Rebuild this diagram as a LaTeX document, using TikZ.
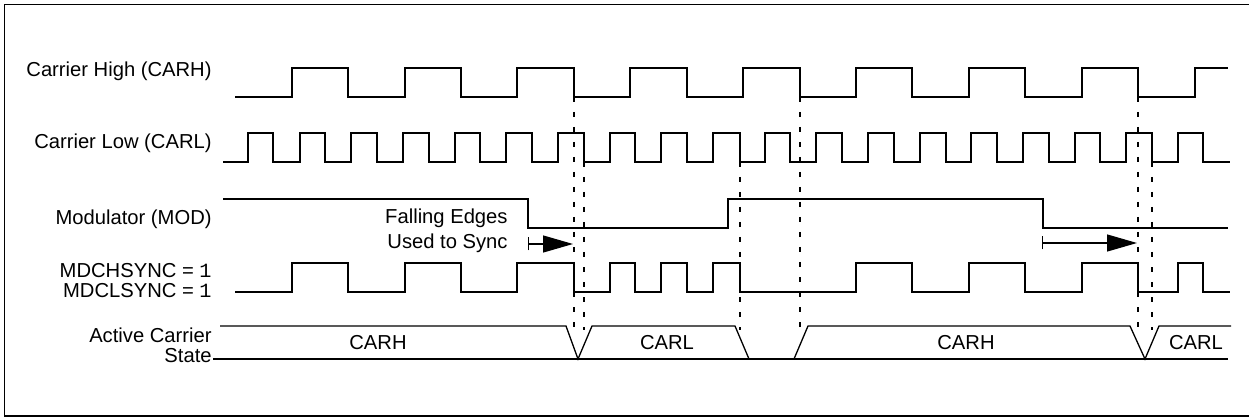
\documentclass[tikz,border=0pt]{standalone}
\usepackage{fontspec}
\setmainfont{Liberation Sans}
\setmonofont{Liberation Mono}
\usepackage{tikz}
\usetikzlibrary{arrows.meta}

\begin{document}
\begin{tikzpicture}[
    x=0.5pt, y=-0.5pt,
    every node/.style={font=\fontsize{10.1pt}{12pt}\selectfont, inner sep=0pt},
    sig/.style={line width=0.65pt, line join=miter},
    syncline/.style={line width=0.7pt, dash pattern=on 2.5pt off 5pt},
    lbl/.style={anchor=base east},
    syncarrow/.style={sig, {Bar[width=6.5pt]}-{Triangle[length=15pt,width=8.5pt]}}
]

\useasboundingbox (0,0) rectangle (1249,417);

% Frame
\draw[line width=0.9pt] (1249,4.5) -- (4.5,4.5) -- (4.5,416) -- (1249,416);

% Signal names
\node[lbl] (carhlbl) at (212,77) {Carrier High (CARH)};
\node[lbl] (carllbl) at (212,149) {Carrier Low (CARL)};
\node[lbl] (modlbl) at (212,225) {Modulator (MOD)};
\node[lbl] (chsynclbl) at (212,278) {MDCHSYNC = \texttt{1}};
\node[lbl] (clsynclbl) at (212,298) {MDCLSYNC = \texttt{1}};
\node[lbl] (actlbl) at (212,343) {Active Carrier};
\node[lbl] (statelbl) at (212,362) {State};

% Carrier high
\draw[sig] (235,97) -| (292,68) -| (348,97) -| (405,68) -| (461,97)
    -| (517,68) -| (574,97) -| (630,68) -| (687,97) -| (743,68)
    -| (800,97) -| (856,68) -| (912,97) -| (969,68) -| (1025,97)
    -| (1082,68) -| (1138,97) -| (1195,68) -- (1228,68);

% Carrier low
\draw[sig] (223,162) -| (248,133) -| (273,162) -| (300,133) -| (325,162)
    -| (351,133) -| (377,162) -| (403,133) -| (429,162) -| (455,133)
    -| (480,162) -| (506,133) -| (532,162) -| (558,133) -| (584,162)
    -| (610,133) -| (635,162) -| (661,133) -| (687,162) -| (713,133)
    -| (740,162) -| (765,133) -| (790,162) -| (816,133) -| (842,162)
    -| (868,133) -| (894,162) -| (920,133) -| (946,162) -| (971,133)
    -| (997,162) -| (1023,133) -| (1049,162) -| (1075,133) -| (1100,162)
    -| (1126,133) -| (1152,162) -| (1178,133) -| (1203,162) -- (1230,162);

% Modulator
\draw[sig] (223,199) -| (528,228) -| (728,199) -| (1043,228) -- (1228,228);

% Modulated output
\draw[sig] (235,292) -| (292,263) -| (348,292) -| (405,263) -| (461,292)
    -| (517,263) -| (574,292) -| (610,263) -| (635,292) -| (661,263)
    -| (687,292) -| (713,263) -| (740,292) -| (856,263) -| (912,292)
    -| (969,263) -| (1025,292) -| (1082,263) -| (1138,292) -| (1178,263)
    -| (1203,292) -- (1230,292);

% Sync edges
\draw[syncline] (574,97) -- (574,330);
\draw[syncline] (584,162) -- (584,330);
\draw[syncline] (740,162) -- (740,330);
\draw[syncline] (800,97) -- (800,330);
\draw[syncline] (1138,97) -- (1138,330);
\draw[syncline] (1152,162) -- (1152,330);

% Falling edge note
\node[lbl] (falllbl) at (508,223) {Falling Edges};
\node[lbl] (usedlbl) at (508,249) {Used to Sync};

\coordinate (wait1) at (528,244);
\coordinate (edge1) at (573,244);
\coordinate (wait2) at (1042,243);
\coordinate (edge2) at (1137,243);
\draw[syncarrow] (wait1) -- (edge1);
\draw[syncarrow] (wait2) -- (edge2);

% Active carrier state
\draw[sig] (220,326) -- (566,326) -- (578,359) -- (592,326) -- (735,326)
    -- (749,359);
\draw[sig] (794,359) -- (808,326) -- (1130,326) -- (1145,359)
    -- (1159,326) -- (1231,326);
\draw[sig] (213,359) -- (1228,359);

\node[anchor=base] (state1) at (378,350) {CARH};
\node[anchor=base] (state2) at (667,350) {CARL};
\node[anchor=base] (state3) at (966,350) {CARH};
\node[anchor=base] (state4) at (1196,350) {CARL};

\end{tikzpicture}
\end{document}
